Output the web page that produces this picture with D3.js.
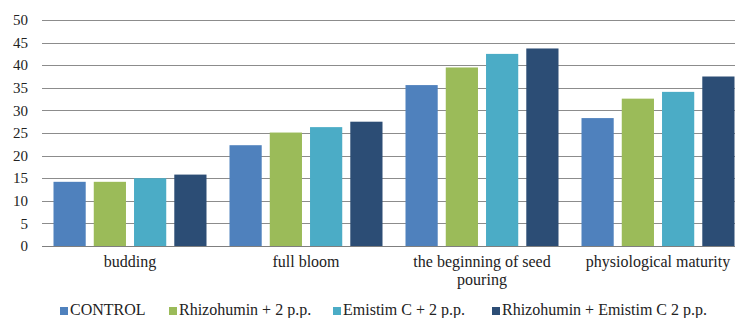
<!DOCTYPE html>
<html>
<head>
<meta charset="utf-8">
<script src="https://cdn.jsdelivr.net/npm/d3@7"></script>
</head>
<body style="margin:0">
<div id="holder"><svg id="chart" width="735" height="318" font-family="Liberation Serif" fill="#222"></svg></div>
<script>
const width = 735;
const height = 318;

const margin = { top: 20, left: 42, bottom: 72, right: -11 };

// data
const categories = ["budding", "full bloom", "the beginning of seed pouring", "physiological maturity"];
const seriesNames = ["CONTROL", "Rhizohumin + 2 p.p.", "Emistim C + 2 p.p.", "Rhizohumin + Emistim C 2 p.p."];
const control = [14.2, 22.3, 35.6, 28.3];
const rhizohumin = [14.2, 25.1, 39.5, 32.6];
const emistim = [15.0, 26.3, 42.5, 34.1];
const rhizoEmistim = [15.8, 27.5, 43.7, 37.5];
const yTicks = [0, 5, 10, 15, 20, 25, 30, 35, 40, 45, 50];
const colors = ["#4f81bd", "#9bbb59", "#4bacc6", "#2c4d75"];

const seriesValues = [control, rhizohumin, emistim, rhizoEmistim];

const svg = d3.select("#chart");

const x0 = d3.scaleBand()
    .domain(categories)
    .range([margin.left, width - margin.right])
    .padding(0);

const x1 = d3.scaleBand()
    .domain(seriesNames)
    .range([11.5, x0.bandwidth() - 11.5])
    .paddingInner(0.2)
    .paddingOuter(0);

const y = d3.scaleLinear()
    .domain([0, 50])
    .range([height - margin.bottom, margin.top]);

// gridlines
svg.append("g")
    .selectAll("line")
    .data(yTicks)
    .join("line")
    .attr("x1", margin.left)
    .attr("x2", width - margin.right)
    .attr("y1", d => Math.round(y(d)) + 0.5)
    .attr("y2", d => Math.round(y(d)) + 0.5)
    .attr("stroke", d => d === 0 ? "#7f7f7f" : "#8c8c8c")
    .attr("stroke-width", 1.2);

// y labels
svg.append("g")
    .selectAll("text")
    .data(yTicks)
    .join("text")
    .attr("x", 28)
    .attr("y", d => y(d))
    .attr("dy", "0.35em")
    .attr("text-anchor", "end")
    .attr("font-family", "Liberation Serif")
    .attr("font-size", 15)
    .text(d => d);

// bars
const groups = svg.append("g")
    .selectAll("g")
    .data(categories)
    .join("g")
    .attr("transform", d => `translate(${x0(d)},0)`);

groups.selectAll("rect")
    .data((d, i) => seriesNames.map((s, j) => ({ s, j, v: seriesValues[j][i] })))
    .join("rect")
    .attr("x", d => x1(d.s))
    .attr("width", x1.bandwidth())
    .attr("y", d => y(d.v))
    .attr("height", d => y(0) - y(d.v))
    .attr("fill", d => colors[d.j]);

// category labels (wrapped)
const catLines = {
    "the beginning of seed pouring": ["the beginning of seed", "pouring"]
};
const catLabels = svg.append("g")
    .selectAll("text")
    .data(categories)
    .join("text")
    .attr("x", d => x0(d) + x0.bandwidth() / 2)
    .attr("y", 267)
    .attr("text-anchor", "middle")
    .attr("font-family", "Liberation Serif")
    .attr("font-size", 16);

catLabels.selectAll("tspan")
    .data(d => catLines[d] || [d])
    .join("tspan")
    .attr("x", function() { return d3.select(this.parentNode).attr("x"); })
    .attr("dy", (d, i) => i === 0 ? 0 : 18)
    .text(d => d);

// legend
const legendX = [60, 169, 333, 492];
const legend = svg.append("g")
    .selectAll("g")
    .data(seriesNames)
    .join("g")
    .attr("transform", (d, i) => `translate(${legendX[i]},315)`);

legend.append("rect")
    .attr("x", 0)
    .attr("y", -8)
    .attr("width", 8)
    .attr("height", 8)
    .attr("fill", (d, i) => colors[i]);

legend.append("text")
    .attr("x", 10)
    .attr("y", 0)
    .attr("font-family", "Liberation Serif")
    .attr("font-size", 16)
    .text(d => d);

// re-parse the finished svg as plain markup
const holder = document.getElementById("holder");
holder.innerHTML = holder.innerHTML;
</script>
</body>
</html>
